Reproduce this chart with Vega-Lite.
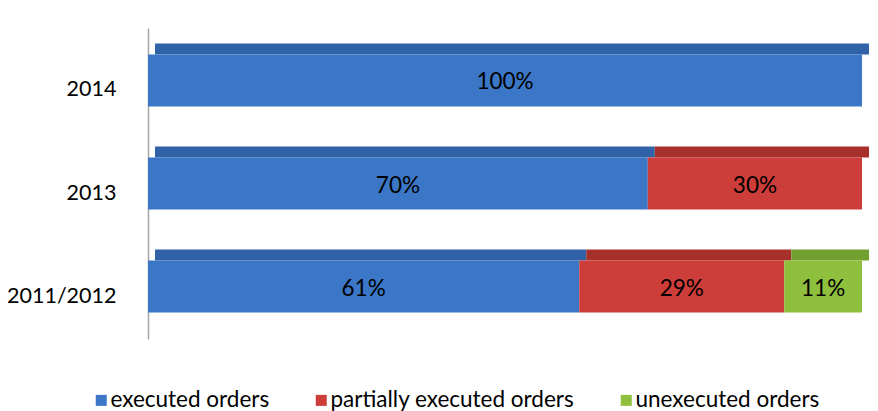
{
  "$schema": "https://vega.github.io/schema/vega-lite/v6.json",
  "width": 714,
  "height": 311,
  "autosize": {"type": "none"},
  "padding": {"left": 148, "top": 28, "right": 16, "bottom": 72},
  "background": "white",
  "config": {
    "font": "Lato",
    "view": {"stroke": null}
  },
  "data": {
    "values": [
      {"year": "2014", "status": "executed orders", "order": 1, "value": 100, "label": "100%"},
      {"year": "2013", "status": "executed orders", "order": 1, "value": 70, "label": "70%"},
      {"year": "2013", "status": "partially executed orders", "order": 2, "value": 30, "label": "30%"},
      {"year": "2011/2012", "status": "executed orders", "order": 1, "value": 61, "label": "61%"},
      {"year": "2011/2012", "status": "partially executed orders", "order": 2, "value": 29, "label": "29%"},
      {"year": "2011/2012", "status": "unexecuted orders", "order": 3, "value": 11, "label": "11%"}
    ]
  },
  "encoding": {
    "y": {
      "field": "year", "type": "nominal", "sort": ["2014", "2013", "2011/2012"],
      "scale": {"paddingInner": 0.495, "paddingOuter": 0.257},
      "axis": {"title": null, "ticks": false, "domainColor": "#a6a6a6", "domainWidth": 1.5, "labelFontSize": 21.5, "labelColor": "#000000", "labelPadding": 32, "labelOffset": 10, "labelFont": "Lato"}
    },
    "x": {
      "field": "value", "type": "quantitative", "stack": "normalize",
      "scale": {"domain": [0, 1], "nice": false},
      "axis": null
    },
    "order": {"field": "order", "type": "quantitative"}
  },
  "layer": [
    {
      "mark": {"type": "bar", "yOffset": -31.5, "xOffset": 7, "height": 11},
      "encoding": {
        "color": {
          "field": "status", "type": "nominal",
          "scale": {"domain": ["executed orders", "partially executed orders", "unexecuted orders"], "range": ["#2f62a6", "#a8302b", "#72a02f"]},
          "legend": null
        }
      }
    },
    {
      "mark": {"type": "bar"},
      "encoding": {
        "color": {
          "field": "status", "type": "nominal",
          "scale": {"domain": ["executed orders", "partially executed orders", "unexecuted orders"], "range": ["#3b77c6", "#cd3d39", "#8ebf3d"]},
          "legend": {
            "title": null, "orient": "none", "direction": "horizontal",
            "legendX": -58, "legendY": 361,
            "symbolType": "square", "symbolSize": 121, "symbolStrokeWidth": 0,
            "labelFontSize": 22.5, "labelColor": "#000000", "labelFont": "Lato", "labelLimit": 0,
            "columnPadding": 40, "labelOffset": -2
          }
        }
      }
    },
    {
      "mark": {"type": "text", "fontSize": 22.5, "color": "#000000", "font": "Lato", "dy": 2},
      "encoding": {
        "x": {"field": "value", "type": "quantitative", "stack": "normalize", "bandPosition": 0.5},
        "text": {"field": "label"}
      }
    }
  ],
  "resolve": {"scale": {"color": "independent"}}
}
